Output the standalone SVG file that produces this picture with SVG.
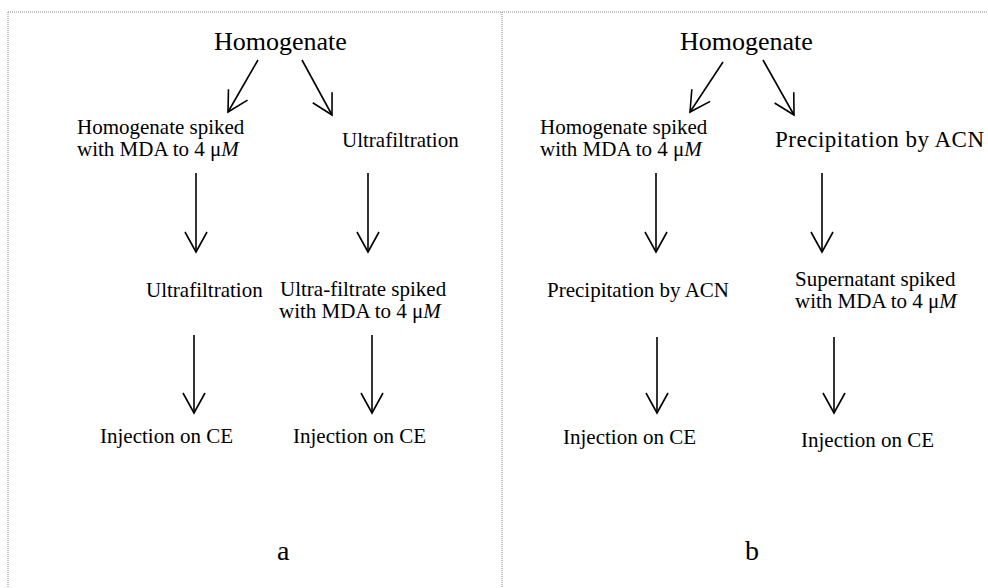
<svg xmlns="http://www.w3.org/2000/svg" width="988" height="588" viewBox="0 0 988 588">
<style>
text{font-family:"Liberation Serif","Times New Roman",serif;fill:#000;font-size:21px}
.t{font-size:26px}
.l{font-size:28px}
.w{font-size:23px}
.b{stroke:#8a8a8a;stroke-width:1;stroke-dasharray:1 1;fill:none}
.c{stroke:#000;stroke-width:1.6;fill:none;marker-end:url(#v)}
</style>
<defs>
<marker id="v" viewBox="-24 -14 28 28" markerWidth="28" markerHeight="28" refX="0" refY="0" orient="auto" markerUnits="userSpaceOnUse">
<path d="M-20,-11 L0,0 L-20,11" fill="none" stroke="#000" stroke-width="1.6"/>
</marker>
</defs>
<rect width="988" height="588" fill="#fff"/>
<g id="frame">
<path class="b" d="M8,12 H988 M8,12 V588 M502,12 V588"/>
</g>
<g id="connectors">
<line class="c" x1="258" y1="60" x2="228" y2="112"/>
<line class="c" x1="302" y1="60" x2="332" y2="115"/>
<line class="c" x1="196" y1="173" x2="196" y2="252"/>
<line class="c" x1="368" y1="173" x2="368" y2="252"/>
<line class="c" x1="194" y1="335" x2="194" y2="413"/>
<line class="c" x1="372" y1="335" x2="372" y2="413"/>
<line class="c" x1="723" y1="62" x2="690" y2="112"/>
<line class="c" x1="763" y1="60" x2="794" y2="115"/>
<line class="c" x1="656" y1="173" x2="656" y2="252"/>
<line class="c" x1="822" y1="173" x2="822" y2="252"/>
<line class="c" x1="657" y1="337" x2="657" y2="413"/>
<line class="c" x1="834" y1="337" x2="834" y2="413"/>
</g>
<g id="a-homogenate"><text class="t" x="214" y="50">Homogenate</text></g>
<g id="a-spiked"><text x="77" y="134">Homogenate spiked</text><text x="77" y="156">with MDA to 4 μ<tspan font-style="italic">M</tspan></text></g>
<g id="a-ultrafiltration1"><text x="342" y="147">Ultrafiltration</text></g>
<g id="a-ultrafiltration2"><text x="146" y="297">Ultrafiltration</text></g>
<g id="a-ultrafiltrate"><text x="280" y="296">Ultra-filtrate spiked</text><text x="279" y="318">with MDA to 4 μ<tspan font-style="italic">M</tspan></text></g>
<g id="a-injection1"><text x="100" y="443">Injection on CE</text></g>
<g id="a-injection2"><text x="293" y="443">Injection on CE</text></g>
<g id="a-label"><text class="l" x="277" y="560">a</text></g>
<g id="b-homogenate"><text class="t" x="680" y="50">Homogenate</text></g>
<g id="b-spiked"><text x="540" y="134">Homogenate spiked</text><text x="540" y="156">with MDA to 4 μ<tspan font-style="italic">M</tspan></text></g>
<g id="b-precip1"><text class="w" x="775" y="147" textLength="209" lengthAdjust="spacing">Precipitation by ACN</text></g>
<g id="b-precip2"><text x="547" y="297">Precipitation by ACN</text></g>
<g id="b-supernatant"><text x="795" y="286">Supernatant spiked</text><text x="795" y="308">with MDA to 4 μ<tspan font-style="italic">M</tspan></text></g>
<g id="b-injection1"><text x="563" y="444">Injection on CE</text></g>
<g id="b-injection2"><text x="801" y="447">Injection on CE</text></g>
<g id="b-label"><text class="l" x="745" y="560">b</text></g>
</svg>
